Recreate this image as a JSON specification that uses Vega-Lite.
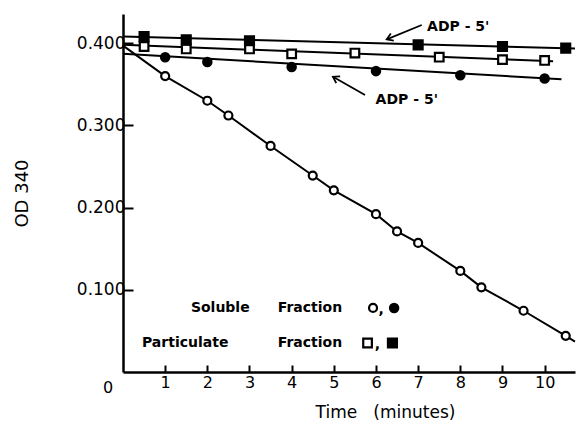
{
  "$schema": "https://vega.github.io/schema/vega-lite/v6.json",
  "width": 452,
  "height": 358,
  "autosize": {"type": "none"},
  "padding": {"left": 123, "top": 14, "right": 1, "bottom": 50},
  "background": "white",
  "config": {
    "view": {"stroke": null},
    "font": "DejaVu Sans",
    "axis": {
      "grid": false,
      "domainColor": "black",
      "tickColor": "black",
      "labelColor": "black",
      "titleColor": "black",
      "labelFont": "DejaVu Sans",
      "titleFont": "DejaVu Sans",
      "titleFontWeight": "normal"
    }
  },
  "datasets": {
    "points": [
      {"series": "Soluble", "t": 1.0, "od": 0.360},
      {"series": "Soluble", "t": 2.0, "od": 0.330},
      {"series": "Soluble", "t": 2.5, "od": 0.312},
      {"series": "Soluble", "t": 3.5, "od": 0.275},
      {"series": "Soluble", "t": 4.5, "od": 0.239},
      {"series": "Soluble", "t": 5.0, "od": 0.221},
      {"series": "Soluble", "t": 6.0, "od": 0.192},
      {"series": "Soluble", "t": 6.5, "od": 0.171},
      {"series": "Soluble", "t": 7.0, "od": 0.157},
      {"series": "Soluble", "t": 8.0, "od": 0.123},
      {"series": "Soluble", "t": 8.5, "od": 0.103},
      {"series": "Soluble", "t": 9.5, "od": 0.0745},
      {"series": "Soluble", "t": 10.5, "od": 0.044},
      {"series": "Soluble ADP-5'", "t": 1.0, "od": 0.383},
      {"series": "Soluble ADP-5'", "t": 2.0, "od": 0.377},
      {"series": "Soluble ADP-5'", "t": 4.0, "od": 0.371},
      {"series": "Soluble ADP-5'", "t": 6.0, "od": 0.366},
      {"series": "Soluble ADP-5'", "t": 8.0, "od": 0.361},
      {"series": "Soluble ADP-5'", "t": 10.0, "od": 0.357},
      {"series": "Particulate", "t": 0.5, "od": 0.396},
      {"series": "Particulate", "t": 1.5, "od": 0.393},
      {"series": "Particulate", "t": 3.0, "od": 0.393},
      {"series": "Particulate", "t": 4.0, "od": 0.387},
      {"series": "Particulate", "t": 5.5, "od": 0.388},
      {"series": "Particulate", "t": 7.5, "od": 0.383},
      {"series": "Particulate", "t": 9.0, "od": 0.380},
      {"series": "Particulate", "t": 10.0, "od": 0.379},
      {"series": "Particulate ADP-5'", "t": 0.5, "od": 0.408},
      {"series": "Particulate ADP-5'", "t": 1.5, "od": 0.404},
      {"series": "Particulate ADP-5'", "t": 3.0, "od": 0.403},
      {"series": "Particulate ADP-5'", "t": 7.0, "od": 0.398},
      {"series": "Particulate ADP-5'", "t": 9.0, "od": 0.396},
      {"series": "Particulate ADP-5'", "t": 10.5, "od": 0.394}
    ],
    "lines": [
      {"series": "Soluble", "t": 0.0, "od": 0.397},
      {"series": "Soluble", "t": 1.0, "od": 0.360},
      {"series": "Soluble", "t": 2.0, "od": 0.330},
      {"series": "Soluble", "t": 2.5, "od": 0.312},
      {"series": "Soluble", "t": 3.5, "od": 0.275},
      {"series": "Soluble", "t": 4.5, "od": 0.239},
      {"series": "Soluble", "t": 5.0, "od": 0.221},
      {"series": "Soluble", "t": 6.0, "od": 0.192},
      {"series": "Soluble", "t": 6.5, "od": 0.171},
      {"series": "Soluble", "t": 7.0, "od": 0.157},
      {"series": "Soluble", "t": 8.0, "od": 0.123},
      {"series": "Soluble", "t": 8.5, "od": 0.103},
      {"series": "Soluble", "t": 9.5, "od": 0.0745},
      {"series": "Soluble", "t": 10.5, "od": 0.044},
      {"series": "Soluble", "t": 10.72, "od": 0.037},
      {"series": "Soluble ADP-5'", "t": 0.0, "od": 0.387},
      {"series": "Soluble ADP-5'", "t": 10.4, "od": 0.356},
      {"series": "Particulate", "t": 0.0, "od": 0.398},
      {"series": "Particulate", "t": 10.2, "od": 0.378},
      {"series": "Particulate ADP-5'", "t": 0.0, "od": 0.408},
      {"series": "Particulate ADP-5'", "t": 10.72, "od": 0.3935}
    ],
    "key": [
      {"series": "Soluble", "t": 5.93, "od": 0.0779},
      {"series": "Soluble ADP-5'", "t": 6.43, "od": 0.0779},
      {"series": "Particulate", "t": 5.80, "od": 0.0353},
      {"series": "Particulate ADP-5'", "t": 6.39, "od": 0.0353}
    ],
    "keytext": [
      {"label": "Soluble", "t": 1.61, "od": 0.0779},
      {"label": "Fraction", "t": 3.67, "od": 0.0779},
      {"label": ",", "t": 6.06, "od": 0.0755},
      {"label": "Particulate", "t": 0.45, "od": 0.0349},
      {"label": "Fraction", "t": 3.67, "od": 0.0349},
      {"label": ",", "t": 5.97, "od": 0.0325}
    ],
    "notes": [
      {"label": "ADP - 5'", "t": 7.95, "od": 0.420},
      {"label": "ADP - 5'", "t": 6.73, "od": 0.331}
    ],
    "arrows": [
      {"arrow": "upper", "t": 7.085, "od": 0.4221, "t2": 6.255, "od2": 0.4047},
      {"arrow": "lower", "t": 5.74, "od": 0.337, "t2": 4.98, "od2": 0.3592}
    ],
    "origin": [
      {"label": "0", "t": 0, "od": 0}
    ]
  },
  "layer": [
    {
      "data": {"name": "lines"},
      "mark": {"type": "line", "color": "black", "strokeWidth": 2},
      "encoding": {
        "x": {
          "field": "t", "type": "quantitative",
          "scale": {"domain": [0, 10.72], "nice": false, "zero": false},
          "title": "Time\u00a0\u00a0\u00a0(minutes)",
          "axis": {
            "values": [1, 2, 3, 4, 5, 6, 7, 8, 9, 10],
            "tickSize": -7, "tickWidth": 2, "domainWidth": 2.5,
            "labelFontSize": 16, "labelPadding": 9,
            "titleFontSize": 17, "titleX": 262, "titleY": 32
          }
        },
        "y": {
          "field": "od", "type": "quantitative",
          "scale": {"domain": [0, 0.4355], "nice": false, "zero": false},
          "title": "OD 340",
          "axis": {
            "values": [0.1, 0.2, 0.3, 0.4], "format": ".3f",
            "tickSize": -10, "tickWidth": 2, "domainWidth": 2.5,
            "labelFontSize": 17, "labelPadding": 8,
            "titleFontSize": 18, "titleX": -101, "titleY": 179,
            "titleAngle": -90, "titleBaseline": "middle"
          }
        },
        "detail": {"field": "series"},
        "order": {"field": "t", "type": "quantitative"}
      }
    },
    {
      "mark": {"type": "rule", "color": "black", "strokeWidth": 2.5},
      "encoding": {"y": {"datum": 0.4355}}
    },
    {
      "data": {"name": "points"},
      "mark": {"type": "point", "filled": true, "stroke": "black", "strokeWidth": 2.2, "opacity": 1},
      "encoding": {
        "x": {"field": "t", "type": "quantitative", "title": "Time\u00a0\u00a0\u00a0(minutes)"},
        "y": {"field": "od", "type": "quantitative", "title": "OD 340"},
        "shape": {"field": "series", "type": "nominal", "legend": null,
          "scale": {"domain": ["Soluble", "Soluble ADP-5'", "Particulate", "Particulate ADP-5'"], "range": ["circle", "circle", "square", "square"]}},
        "fill": {"field": "series", "type": "nominal", "legend": null,
          "scale": {"domain": ["Soluble", "Soluble ADP-5'", "Particulate", "Particulate ADP-5'"], "range": ["white", "black", "white", "black"]}},
        "size": {"field": "series", "type": "nominal", "legend": null,
          "scale": {"domain": ["Soluble", "Soluble ADP-5'", "Particulate", "Particulate ADP-5'"], "range": [64, 80, 70, 96]}}
      }
    },
    {
      "data": {"name": "key"},
      "mark": {"type": "point", "filled": true, "stroke": "black", "strokeWidth": 2.2, "opacity": 1},
      "encoding": {
        "x": {"field": "t", "type": "quantitative", "title": "Time\u00a0\u00a0\u00a0(minutes)"},
        "y": {"field": "od", "type": "quantitative", "title": "OD 340"},
        "shape": {"field": "series", "type": "nominal", "legend": null},
        "fill": {"field": "series", "type": "nominal", "legend": null},
        "size": {"field": "series", "type": "nominal", "legend": null}
      }
    },
    {
      "data": {"name": "keytext"},
      "mark": {"type": "text", "align": "left", "baseline": "middle", "font": "DejaVu Sans", "fontWeight": "bold", "fontSize": 14, "color": "black"},
      "encoding": {
        "x": {"field": "t", "type": "quantitative", "title": "Time\u00a0\u00a0\u00a0(minutes)"},
        "y": {"field": "od", "type": "quantitative", "title": "OD 340"},
        "text": {"field": "label"}
      }
    },
    {
      "data": {"name": "notes"},
      "mark": {"type": "text", "align": "center", "baseline": "middle", "font": "DejaVu Sans", "fontWeight": "bold", "fontSize": 14, "color": "black"},
      "encoding": {
        "x": {"field": "t", "type": "quantitative", "title": "Time\u00a0\u00a0\u00a0(minutes)"},
        "y": {"field": "od", "type": "quantitative", "title": "OD 340"},
        "text": {"field": "label"}
      }
    },
    {
      "data": {"name": "arrows"},
      "mark": {"type": "rule", "color": "black", "strokeWidth": 1.8},
      "encoding": {
        "x": {"field": "t", "type": "quantitative", "title": "Time\u00a0\u00a0\u00a0(minutes)"},
        "y": {"field": "od", "type": "quantitative", "title": "OD 340"},
        "x2": {"field": "t2"},
        "y2": {"field": "od2"}
      }
    },
    {
      "data": {"name": "arrows"},
      "transform": [{"filter": "datum.arrow === 'upper'"}],
      "mark": {"type": "point", "shape": "M-1,-0.65L0,0L-1,0.65", "angle": 158, "size": 144, "filled": false, "stroke": "black", "strokeWidth": 1.8, "opacity": 1},
      "encoding": {
        "x": {"field": "t2", "type": "quantitative", "title": "Time\u00a0\u00a0\u00a0(minutes)"},
        "y": {"field": "od2", "type": "quantitative", "title": "OD 340"}
      }
    },
    {
      "data": {"name": "arrows"},
      "transform": [{"filter": "datum.arrow === 'lower'"}],
      "mark": {"type": "point", "shape": "M-1,-0.65L0,0L-1,0.65", "angle": 210, "size": 144, "filled": false, "stroke": "black", "strokeWidth": 1.8, "opacity": 1},
      "encoding": {
        "x": {"field": "t2", "type": "quantitative", "title": "Time\u00a0\u00a0\u00a0(minutes)"},
        "y": {"field": "od2", "type": "quantitative", "title": "OD 340"}
      }
    },
    {
      "data": {"name": "origin"},
      "mark": {"type": "text", "align": "center", "baseline": "middle", "dx": -15, "dy": 16, "font": "DejaVu Sans", "fontSize": 16, "color": "black"},
      "encoding": {
        "x": {"field": "t", "type": "quantitative", "title": "Time\u00a0\u00a0\u00a0(minutes)"},
        "y": {"field": "od", "type": "quantitative", "title": "OD 340"},
        "text": {"field": "label"}
      }
    }
  ]
}
